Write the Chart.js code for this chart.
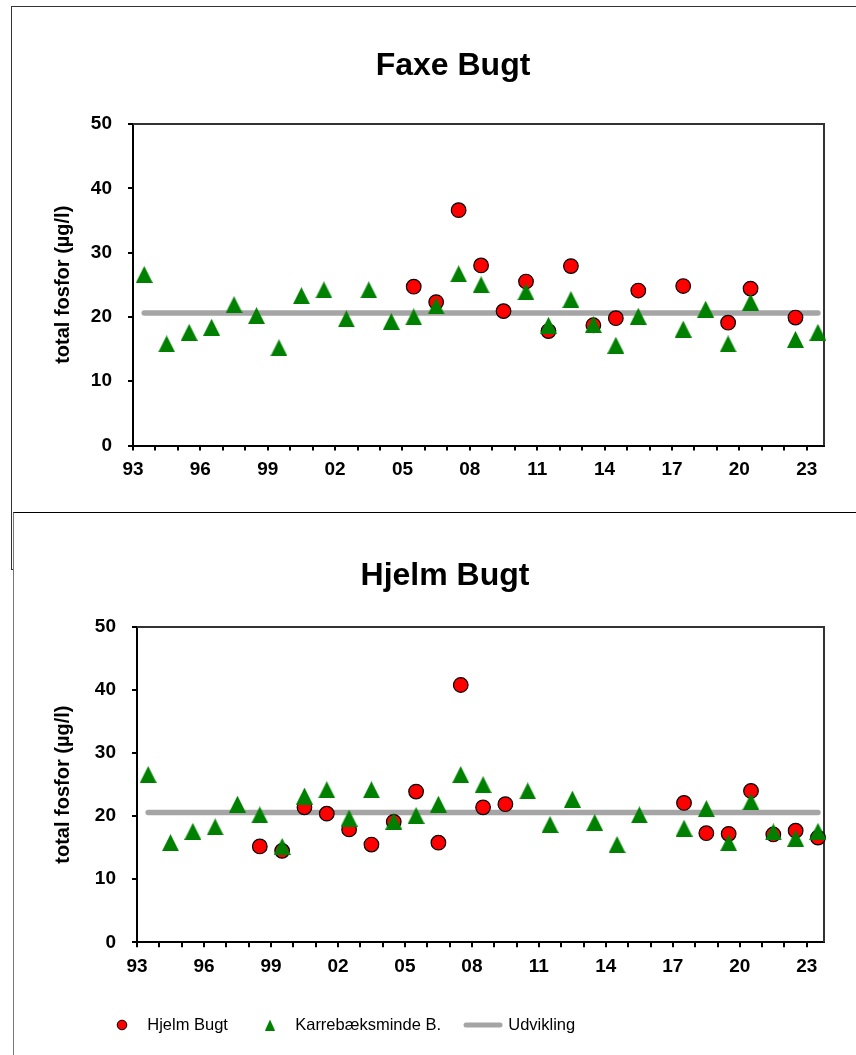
<!DOCTYPE html>
<html>
<head>
<meta charset="utf-8">
<script src="https://cdn.jsdelivr.net/npm/chart.js@4.4.1/dist/chart.umd.min.js"></script>
<style>
  body { margin: 0; background: #fff; width: 856px; height: 1055px; overflow: hidden; position: relative; }
  #boxTop { position: absolute; left: 11px; top: 6px; width: 860px; height: 562px; border: 1px solid #333; }
  #boxBottom { position: absolute; left: 13px; top: 512px; width: 860px; height: 560px; background: #fff; border-top: 1px solid #000; border-left: 1px solid #777; }
  #faxe { position: absolute; left: 0; top: 0; }
  #hjelm { position: absolute; left: 0; top: 512px; }
</style>
</head>
<body>
<div id="boxTop"></div>
<canvas id="faxe" width="856" height="510"></canvas>
<div id="boxBottom"></div>
<canvas id="hjelm" width="856" height="543"></canvas>
<script>
// years of measurements (markers sit mid-year)
const years = [1993, 1994, 1995, 1996, 1997, 1998, 1999, 2000, 2001, 2002, 2003, 2004, 2005, 2006, 2007, 2008,
               2009, 2010, 2011, 2012, 2013, 2014, 2015, 2016, 2017, 2018, 2019, 2020, 2021, 2022, 2023]
const tickLabels = ['93', '', '', '96', '', '', '99', '', '', '02', '', '', '05', '', '', '08',
                    '', '', '11', '', '', '14', '', '', '17', '', '', '20', '', '', '23']

const faxeBugt = [null, null, null, null, null, null, null, null, null, null, null, null, 24.7, 22.3, 36.6, 28.0,
                  20.9, 25.5, 17.8, 27.9, 18.7, 19.8, 24.1, null, 24.8, null, 19.1, 24.4, null, 19.9, null]
const karreFaxe = [26.6, 15.8, 17.6, 18.4, 21.9, 20.2, 15.2, 23.3, 24.2, 19.7, 24.2, 19.3, 20.0, 21.7, 26.7, 25.0,
                   null, 23.9, 18.7, 22.7, 18.8, 15.6, 20.1, null, 18.1, 21.2, 15.8, 22.3, null, 16.5, 17.6]

const hjelmBugt = [null, null, null, null, null, 15.2, 14.5, 21.4, 20.4, 17.9, 15.5, 19.1, 23.9, 15.8, 40.8, 21.4,
                   21.9, null, null, null, null, null, null, null, 22.1, 17.3, 17.2, 24.0, 17.1, 17.7, 16.6]
const karreHjelm = [26.6, 15.8, 17.6, 18.3, 21.9, 20.2, 15.2, 23.2, 24.2, 19.7, 24.2, 19.2, 20.1, 21.9, 26.6, 25.0,
                    null, 24.0, 18.7, 22.7, 19.0, 15.5, 20.2, null, 18.1, 21.2, 15.8, 22.3, 17.5, 16.5, 17.6]

const trendYears = [1993, 2023]
const trendFaxe = [20.6, 20.6]
const trendHjelm = [20.6, 20.6]

const FONT = "'Liberation Sans', Arial, sans-serif"
Chart.defaults.font.family = FONT
Chart.defaults.color = '#000'

function triangle(w, h) {
    const c = document.createElement('canvas')
    c.width = w
    c.height = h
    const ctx = c.getContext('2d')
    ctx.fillStyle = '#008000'
    ctx.beginPath()
    ctx.moveTo(0, h)
    ctx.lineTo(w / 2, 0)
    ctx.lineTo(w, h)
    ctx.closePath()
    ctx.fill()
    return c
}

function dot(size, r) {
    const c = document.createElement('canvas')
    c.width = size
    c.height = size
    const ctx = c.getContext('2d')
    ctx.fillStyle = '#ff0000'
    ctx.strokeStyle = '#000'
    ctx.lineWidth = 1
    ctx.beginPath()
    ctx.arc(size / 2, size / 2, r, 0, Math.PI * 2)
    ctx.fill()
    ctx.stroke()
    return c
}

const triMark = triangle(17, 17)
const triLegend = triangle(10, 11)
const dotLegend = dot(12, 4.8)

function pts(xs, vals) {
    return xs.map((yr, i) => ({ x: yr + 0.5, y: vals[i] })).filter(p => p.y !== null)
}

// top + right edge of the plot area
const frame = {
    id: 'frame',
    beforeDatasetsDraw(c) {
        const a = c.chartArea, ctx = c.ctx
        ctx.save()
        ctx.strokeStyle = '#333'
        ctx.lineWidth = 2
        ctx.beginPath()
        ctx.moveTo(a.left, a.top)
        ctx.lineTo(a.right, a.top)
        ctx.lineTo(a.right, a.bottom)
        ctx.stroke()
        ctx.restore()
    }
}

// title and legend are not centred in the original, move them
const shiftBoxes = {
    id: 'shiftBoxes',
    afterLayout(c, args, opts) {
        const t = c.titleBlock
        if (t) {
            const dx = opts.titleX - (t.left + t.right) / 2
            t.left += dx
            t.right += dx
        }
        if (c.legend && c.options.plugins.legend.display) c.legend.left = 80
    }
}

function makeChart(id, title, name, red, green, trend, g) {
    const axisGrid = { drawOnChartArea: false, drawTicks: true, tickLength: 5, color: '#000', lineWidth: 2 }
    return new Chart(document.getElementById(id), {
        type: 'scatter',
        data: {
            datasets: [
                {
                    label: name,
                    data: pts(years, red),
                    order: 2,
                    pointStyle: 'circle',
                    pointRadius: 7.3,
                    pointHoverRadius: 7.3,
                    backgroundColor: '#ff0000',
                    borderColor: '#000',
                    borderWidth: 1.2,
                    clip: false
                },
                {
                    label: 'Karrebæksminde B.',
                    data: pts(years, green),
                    order: 1,
                    pointStyle: triMark,
                    pointRadius: 8,
                    backgroundColor: '#008000',
                    borderColor: '#008000',
                    clip: false
                },
                {
                    label: 'Udvikling',
                    data: pts(trendYears, trend),
                    order: 3,
                    showLine: true,
                    borderColor: '#a5a5a5',
                    backgroundColor: '#a5a5a5',
                    borderWidth: 5.5,
                    borderCapStyle: 'round',
                    pointRadius: 0,
                    clip: false
                }
            ]
        },
        options: {
            responsive: false,
            animation: false,
            layout: { padding: { left: 0, right: 32, top: 0, bottom: g.padBottom } },
            scales: {
                x: {
                    type: 'linear',
                    min: 1993,
                    max: 2023.77,
                    afterBuildTicks: s => { s.ticks = years.map(v => ({ value: v })) },
                    afterFit: s => { s.height = g.xH },
                    grid: axisGrid,
                    border: { color: '#000', width: 2 },
                    ticks: {
                        autoSkip: false, maxRotation: 0, minRotation: 0, padding: 8,
                        font: { size: 19, weight: 'bold' },
                        callback: v => tickLabels[years.indexOf(v)]
                    }
                },
                y: {
                    min: 0,
                    max: 50,
                    afterFit: s => { s.width = g.yW },
                    grid: axisGrid,
                    border: { color: '#000', width: 2 },
                    ticks: { stepSize: 10, padding: 16, font: { size: 19, weight: 'bold' } },
                    title: {
                        display: true,
                        text: 'total fosfor (µg/l)',
                        font: { size: 20, weight: 'bold' },
                        padding: { top: 51, bottom: 0 }
                    }
                }
            },
            plugins: {
                shiftBoxes: { titleX: g.titleX },
                title: {
                    display: true,
                    text: title,
                    font: { size: 32, weight: 'bold' },
                    padding: { top: g.titleTop, bottom: g.titleBottom }
                },
                tooltip: { enabled: false },
                legend: {
                    display: g.legend,
                    position: 'bottom',
                    align: 'start',
                    labels: {
                        usePointStyle: true,
                        pointStyleWidth: 34,
                        padding: 25,
                        font: { size: 16.5 },
                        sort: (a, b) => a.datasetIndex - b.datasetIndex,
                        generateLabels: chart => {
                            const items = Chart.defaults.plugins.legend.labels.generateLabels(chart)
                            items.forEach(it => {
                                if (it.datasetIndex === 0) it.pointStyle = dotLegend
                                if (it.datasetIndex === 1) it.pointStyle = triLegend
                                if (it.datasetIndex === 2) {
                                    it.pointStyle = 'line'
                                    it.strokeStyle = '#a5a5a5'
                                    it.lineWidth = 5
                                    it.lineCap = 'round'
                                }
                            })
                            return items
                        }
                    }
                }
            }
        },
        plugins: [frame, shiftBoxes]
    })
}

makeChart('faxe', 'Faxe Bugt', 'Faxe Bugt', faxeBugt, karreFaxe, trendFaxe,
    { yW: 133, xH: 40, padBottom: 24.5, titleTop: 47, titleBottom: 38.6, titleX: 453, legend: false })

makeChart('hjelm', 'Hjelm Bugt', 'Hjelm Bugt', hjelmBugt, karreHjelm, trendHjelm,
    { yW: 137, xH: 49.45, padBottom: 11.75, titleTop: 45, titleBottom: 31.6, titleX: 445, legend: true })
</script>
</body>
</html>
